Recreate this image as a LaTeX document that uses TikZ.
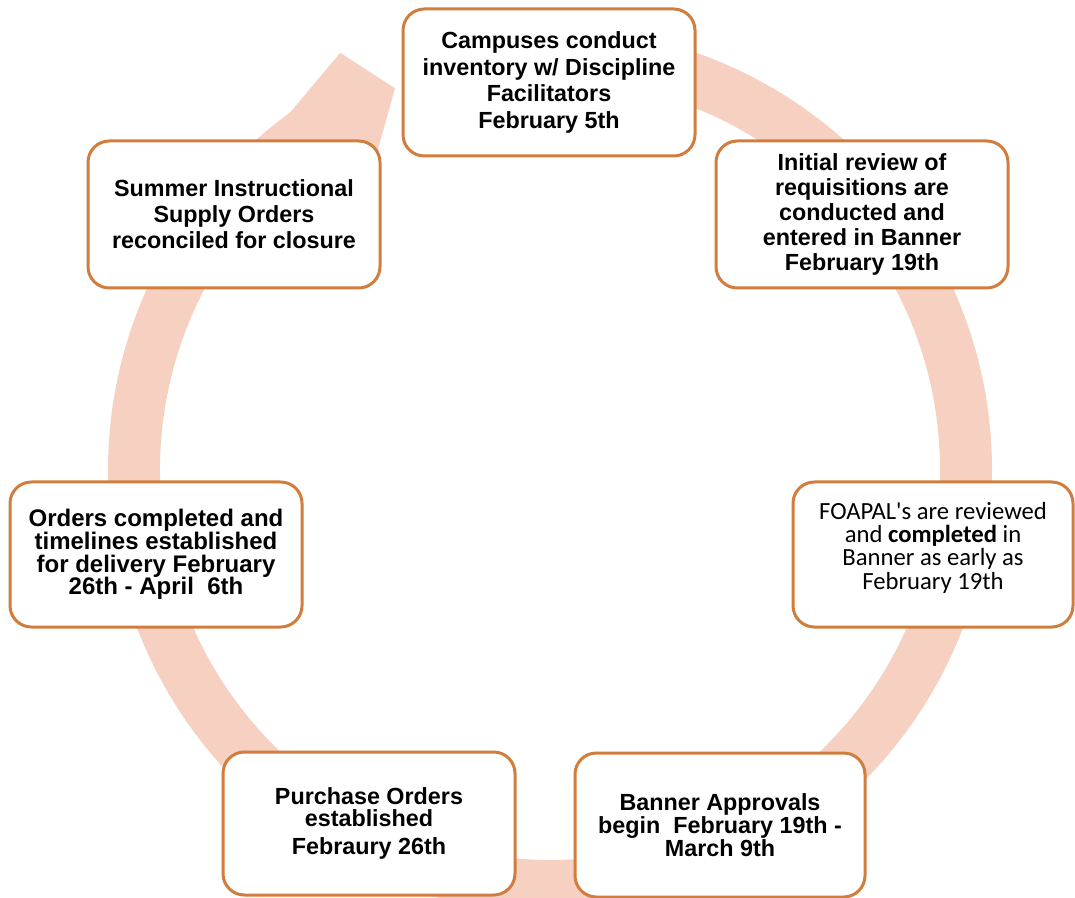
\documentclass[tikz,border=0pt]{standalone}
\usepackage{fontspec}
\setmainfont{Liberation Sans}
\newfontfamily\calib{Carlito}[Ligatures=TeXOff]
\definecolor{ringc}{RGB}{246,209,194}
\definecolor{boxc}{RGB}{208,125,62}
\tikzset{
  stagebox/.style={draw=boxc, line width=2.25pt, fill=white, rounded corners=16pt,
    align=center, inner sep=2pt, text=black},
  armfont/.style={font=\fontsize{17.5}{#1}\selectfont\bfseries},
}
\begin{document}
\begin{tikzpicture}[x=0.75pt,y=-0.75pt]
\useasboundingbox (0,0) rectangle (1075,898);
\fill[white] (0,0) rectangle (1075,898);
% ring with arrowhead
\begin{scope}[shift={(550,470)}, x=0.75pt, y=0.75pt]
  \coordinate (bout) at (116.7:467);
  \coordinate (tip) at (112.1:412);
  \coordinate (bin) at (118.5:362);
  \fill[ringc] (90:442) arc[start angle=90, end angle=-234, radius=442]
    -- (bout) -- (tip) -- (bin) -- (-234:390)
    arc[start angle=-234, end angle=90, radius=390] -- cycle;
\end{scope}
% boxes
\node[stagebox, armfont=20pt, minimum width=219pt, minimum height=110.25pt] (n1) at (549,82.5)
  {Campuses conduct\\inventory w/ Discipline\\Facilitators\\February 5th};
\node[stagebox, armfont=18.75pt, minimum width=219pt, minimum height=110.25pt] (n2) at (862,214.5)
  {Initial review of\\requisitions are\\conducted and\\entered in Banner\\February 19th};
\node[stagebox, font=\calib\fontsize{18.5}{17.5}\selectfont, minimum width=210pt, minimum height=108.75pt] (n3) at (933,554.5)
  {FOAPAL's are reviewed\\and \textbf{completed} in\\Banner as early as\\February 19th\\[-4pt]\mbox{}};
\node[stagebox, armfont=17pt, minimum width=217.5pt, minimum height=108pt] (n4) at (720,825)
  {Banner Approvals\\begin\ \ February 19th -\\March 9th};
\node[stagebox, armfont=16.5pt, minimum width=219pt, minimum height=107.25pt] (n5) at (369,823.5)
  {Purchase Orders\\established\\[4pt]Febraury 26th};
\node[stagebox, font=\fontsize{18}{17}\selectfont\bfseries, minimum width=219pt, minimum height=108.75pt] (n6) at (156,554.5)
  {Orders completed and\\timelines established\\for delivery February\\26th - April\ \ 6th};
\node[stagebox, armfont=19.5pt, minimum width=219pt, minimum height=110.25pt] (n7) at (234,214.5)
  {Summer Instructional\\Supply Orders\\reconciled for closure};
\end{tikzpicture}
\end{document}
